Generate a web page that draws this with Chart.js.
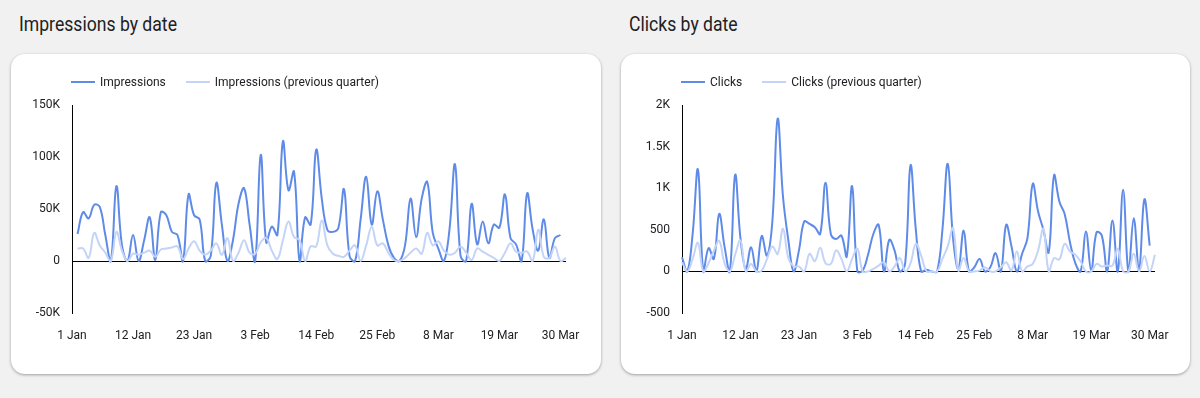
<!DOCTYPE html>
<html>
<head>
<meta charset="utf-8">
<script src="https://cdn.jsdelivr.net/npm/chart.js@4.4.1/dist/chart.umd.min.js"></script>
<style>
  html, body { margin:0; padding:0; }
  body { width:1200px; height:398px; background:#f1f1f1; position:relative; overflow:hidden; font-family: Roboto, "Noto Sans", sans-serif; }
  .title { position:absolute; top:12px; font-size:20px; line-height:24px; color:#202124; transform:scaleX(0.88); transform-origin:0 50%; white-space:nowrap; }
  .card { position:absolute; top:54px; height:320px; background:#fff; border-radius:14px; box-shadow:0 1px 3px rgba(0,0,0,0.35); }
  .card canvas { position:absolute; left:0; top:0; }
  .legend { position:absolute; top:20px; left:60px; height:15px; display:flex; align-items:center; font-size:12px; color:#202124; }
  .item { display:flex; align-items:center; margin-right:20px; }
  .sw { width:24px; height:2px; margin-right:5px; }
</style>
</head>
<body>
<div class="title" style="left:19px">Impressions by date</div>
<div class="title" style="left:629px">Clicks by date</div>

<div class="card" style="left:11px;width:590px">
  <canvas id="c1" width="590" height="320"></canvas>
  <div class="legend">
    <div class="item"><span class="sw" style="background:#5f8be8"></span>Impressions</div>
    <div class="item"><span class="sw" style="background:#c3d4f8"></span>Impressions (previous quarter)</div>
  </div>
</div>
<div class="card" style="left:621px;width:569px">
  <canvas id="c2" width="569" height="320"></canvas>
  <div class="legend">
    <div class="item"><span class="sw" style="background:#5f8be8"></span>Clicks</div>
    <div class="item"><span class="sw" style="background:#c3d4f8"></span>Clicks (previous quarter)</div>
  </div>
</div>

<script>
// ---- categories (1 Jan .. 31 Mar) ----
const monthNames = ['Jan', 'Feb', 'Mar'];
const monthDays = [31, 28, 31];
const categories = [];
monthNames.forEach((m, i) => { for (let d = 1; d <= monthDays[i]; d++) categories.push(d + ' ' + m); });
const xTickLabels = ['1 Jan','12 Jan','23 Jan','3 Feb','14 Feb','25 Feb','8 Mar','19 Mar','30 Mar'];

// ---- Impressions (thousands) ----
const impressions = [null,26,47,41,54,52,25,0,72,15,0,25,0,20,42,1,47,44,28,25,0,64,44,40,0,5,75,35,0,20,
  55,70,35,0,102,18,33,25,115,68,86,0,42,35,107,60,30,28,32,69,5,0,40,81,35,67,40,15,3,0,
  15,60,23,60,76,27,12,0,30,93,5,0,55,16,38,17,35,32,64,22,16,0,65,30,10,40,3,22,25];
const impressionsPrev = [null,12,12,3,27,15,8,0,28,10,0,7,6,8,10,4,11,12,13,14,2,12,19,10,6,10,17,6,22,0,
  8,20,8,7,18,22,10,2,20,38,23,20,0,14,14,39,15,7,5,4,10,15,0,15,33,15,17,8,1,0,
  3,8,12,7,27,15,19,10,6,8,14,8,1,12,9,6,3,0,8,17,9,8,9,0,30,4,3,14,0,3];
const impTickValues = [-50, 0, 50, 100, 150];
const impTickLabels = ['-50K', '0', '50K', '100K', '150K'];

// ---- Clicks ----
const clicks = [170,0,450,1225,0,280,150,690,300,0,1160,400,30,290,0,425,190,600,1835,900,380,0,250,600,570,530,450,1065,450,390,
  430,180,1025,0,10,200,450,560,0,380,250,0,100,1275,500,0,20,0,0,500,1294,400,30,490,0,50,150,0,50,220,
  0,560,300,0,212,400,1053,720,500,230,1154,840,690,350,100,0,480,10,470,430,0,613,0,980,0,640,10,865,310];
const clicksPrev = [110,0,150,344,0,100,250,368,100,0,200,372,0,90,0,10,150,300,210,513,160,60,60,0,212,124,284,100,90,252,
  150,0,150,272,0,0,30,70,110,0,60,160,0,100,332,190,0,0,0,150,300,520,10,160,0,0,10,50,0,0,
  50,110,10,240,0,60,90,250,513,0,160,144,332,240,200,120,0,0,90,60,70,70,272,0,0,212,0,184,0,200];
const clkTickValues = [-500, 0, 500, 1000, 1500, 2000];
const clkTickLabels = ['-500', '0', '500', '1K', '1.5K', '2K'];

const mainColor = '#5f8be8';
const prevColor = '#c3d4f8';
const fontSpec = { family: 'Roboto', size: 12 };
const textColor = '#202124';

function makeChart(id, seriesMain, seriesPrev, labelMain, labelPrev, tickValues, tickLabels) {
  const ctx = document.getElementById(id);
  return new Chart(ctx, {
    type: 'line',
    data: {
      labels: categories,
      datasets: [
        { label: labelPrev, data: seriesPrev, borderColor: prevColor, borderWidth: 2, pointRadius: 0, tension: 0.4, fill: false },
        { label: labelMain, data: seriesMain, borderColor: mainColor, borderWidth: 2, pointRadius: 0, tension: 0.4, fill: false }
      ]
    },
    options: {
      responsive: false,
      animation: false,
      devicePixelRatio: 1,
      layout: { padding: { top: 51, right: 35, left: 0, bottom: 0 } },
      plugins: { legend: { display: false }, tooltip: { enabled: false } },
      scales: {
        x: {
          type: 'category',
          offset: false,
          grid: { display: false },
          border: { display: false },
          ticks: { autoSkip: false, maxRotation: 0, minRotation: 0, padding: 8, color: textColor, font: fontSpec },
          afterBuildTicks: (s) => { s.ticks = s.ticks.filter(t => xTickLabels.includes(categories[t.value])); },
          afterFit: (s) => { s.height = 61; }
        },
        y: {
          min: tickValues[0],
          max: tickValues[tickValues.length - 1],
          grid: {
            drawTicks: false,
            color: (c) => (c.tick && c.tick.value === 0) ? '#000' : 'rgba(0,0,0,0)',
            lineWidth: 1
          },
          border: { display: true, color: '#000', width: 1 },
          ticks: {
            padding: 12, color: textColor, font: fontSpec,
            callback: (v) => { const i = tickValues.indexOf(v); return i >= 0 ? tickLabels[i] : ''; }
          },
          afterBuildTicks: (s) => { s.ticks = tickValues.map(v => ({ value: v })); },
          afterFit: (s) => { s.width = 61; }
        }
      }
    }
  });
}

makeChart('c1', impressions.map(v => v === null ? null : v * 1000), impressionsPrev.map(v => v === null ? null : v * 1000),
  'Impressions', 'Impressions (previous quarter)', impTickValues.map(v => v * 1000), impTickLabels);
makeChart('c2', clicks, clicksPrev, 'Clicks', 'Clicks (previous quarter)', clkTickValues, clkTickLabels);
</script>
</body>
</html>
